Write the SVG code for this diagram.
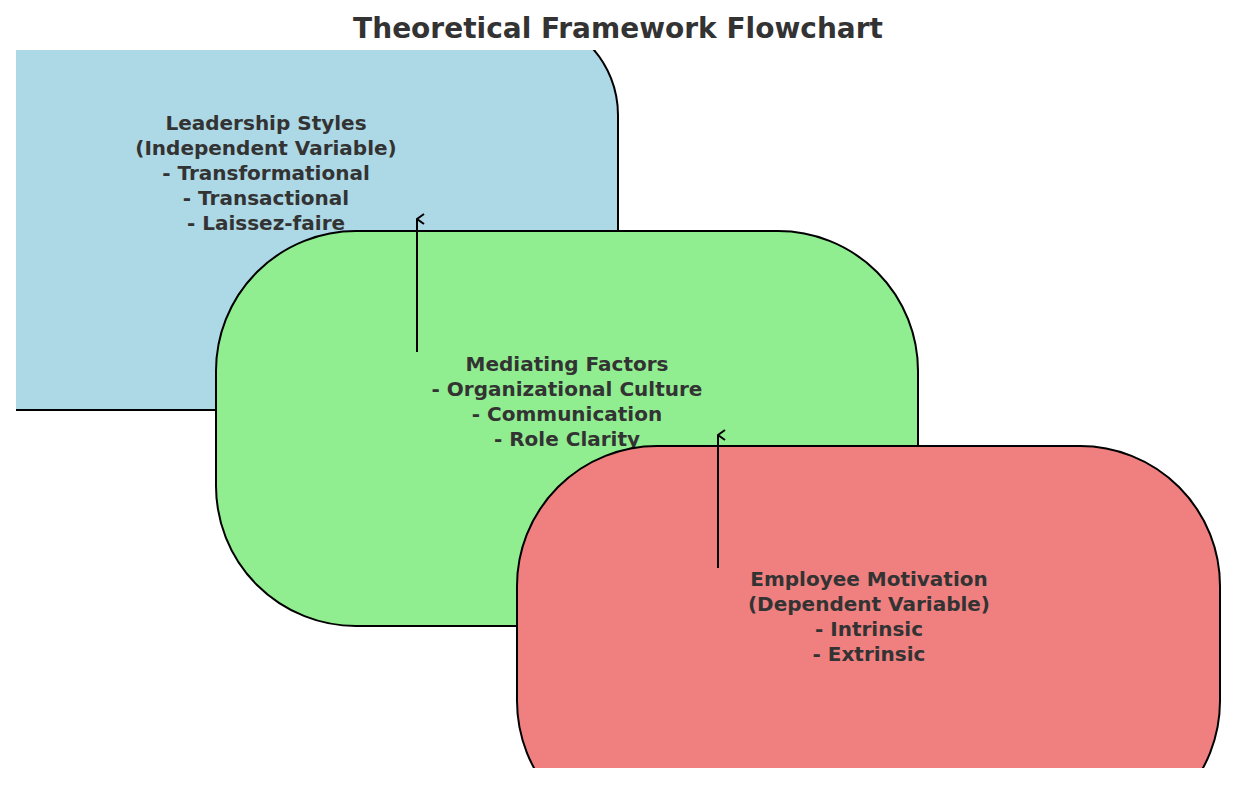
<svg xmlns="http://www.w3.org/2000/svg" width="1235" height="785" viewBox="0 0 1235 785">
<style>
.box{stroke:#000;stroke-width:2}
.t{font-family:"DejaVu Sans",sans-serif;font-weight:bold;font-size:20px;fill:#333;text-anchor:middle}
.a{stroke:#000;stroke-width:2;fill:none}
</style>
<defs>
<clipPath id="c"><rect x="16" y="50" width="1210" height="718"/></clipPath>
<marker id="m" markerWidth="12" markerHeight="12" refX="6" refY="1" orient="auto-start-reverse" markerUnits="userSpaceOnUse"><path d="M1,8 L6,1 L11,8" fill="none" stroke="#000" stroke-width="2"/></marker>
</defs>
<rect width="1235" height="785" fill="#fff"/>
<text x="618" y="38" style="font-family:'DejaVu Sans',sans-serif;font-weight:bold;font-size:28px;fill:#333;text-anchor:middle">Theoretical Framework Flowchart</text>
<g clip-path="url(#c)">
<g id="leadership">
<rect class="box" x="-85" y="15" width="703" height="395" rx="100" fill="#add8e6"/>
<text class="t" x="266" y="130">Leadership Styles<tspan x="266" dy="25">(Independent Variable)</tspan><tspan x="266" dy="25">- Transformational</tspan><tspan x="266" dy="25">- Transactional</tspan><tspan x="266" dy="25">- Laissez-faire</tspan></text>
</g>
<g id="mediating">
<rect class="box" x="216" y="231" width="702" height="395" rx="140" fill="#90ee90"/>
<text class="t" x="567" y="371">Mediating Factors<tspan x="567" dy="25">- Organizational Culture</tspan><tspan x="567" dy="25">- Communication</tspan><tspan x="567" dy="25">- Role Clarity</tspan></text>
</g>
<g id="motivation">
<rect class="box" x="517" y="446" width="703" height="395" rx="140" fill="#f08080"/>
<text class="t" x="869" y="586">Employee Motivation<tspan x="869" dy="25">(Dependent Variable)</tspan><tspan x="869" dy="25">- Intrinsic</tspan><tspan x="869" dy="25">- Extrinsic</tspan></text>
</g>
<g id="connectors">
<line class="a" x1="417" y1="352" x2="417" y2="219" marker-end="url(#m)"/>
<line class="a" x1="718" y1="568" x2="718" y2="435" marker-end="url(#m)"/>
</g>
</g>
</svg>
